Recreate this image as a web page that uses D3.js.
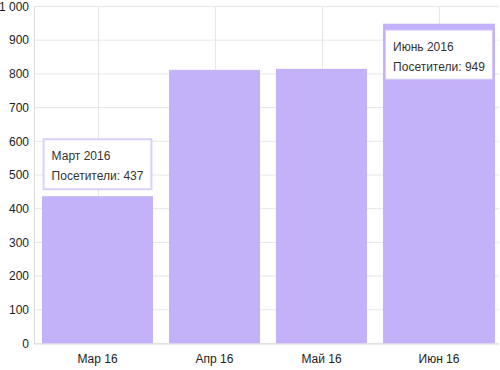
<!DOCTYPE html>
<html lang="ru">
<head>
<meta charset="UTF-8">
<title>Посетители</title>
<script src="https://cdn.jsdelivr.net/npm/d3@7"></script>
<style>
  body { margin: 0; background: #fff; }
  svg { font-family: "Liberation Sans", Arial, sans-serif; }
</style>
</head>
<body>
<div id="chart"></div>
<script>
// data
const months = ["2016-03", "2016-04", "2016-05", "2016-06"];
const tickLabels = ["Мар 16", "Апр 16", "Май 16", "Июн 16"];
const tipLabels = ["Март 2016", "Апрель 2016", "Май 2016", "Июнь 2016"];
const visitors = [437, 812, 815, 949];
const yTicks = [0, 100, 200, 300, 400, 500, 600, 700, 800, 900, 1000];
const tipShown = [0, 3];

const W = 500, H = 370;
const mLeft = 34, mRight = 499, mTop = 6.5, mBottom = 343.5;
const barColor = "#c3b1f9";

const svg = d3.select("#chart").append("svg")
  .attr("width", W).attr("height", H);

const ru = d3.formatLocale({ decimal: ",", thousands: "\u00a0", grouping: [3], currency: ["", ""] });
const fmt = ru.format(",d");

// cell edges: the first and last month get wider cells
const xEdge = d3.scaleLinear()
  .domain([0, 1, 2, 3, 4])
  .range([mLeft, 161, 268, 375, 503]);
const xMid = i => (xEdge(i) + xEdge(i + 1)) / 2;
const pad = 8;

const y = d3.scaleLinear().domain([0, 1000]).range([mBottom, mTop]);

// grid
svg.append("g").selectAll("line").data(yTicks).join("line")
  .attr("x1", mLeft).attr("x2", mRight)
  .attr("y1", d => y(d)).attr("y2", d => y(d))
  .attr("stroke", "#e6e6e6");
svg.append("g").selectAll("line").data(months).join("line")
  .attr("x1", (d, i) => Math.round(xMid(i)) + 0.5).attr("x2", (d, i) => Math.round(xMid(i)) + 0.5)
  .attr("y1", mTop).attr("y2", mBottom)
  .attr("stroke", "#e6e6e6");

// bars
svg.append("g").selectAll("rect").data(visitors).join("rect")
  .attr("x", (d, i) => xEdge(i) + pad)
  .attr("width", (d, i) => xEdge(i + 1) - xEdge(i) - 2 * pad)
  .attr("y", d => y(d))
  .attr("height", d => y(0) - y(d))
  .attr("fill", barColor);

// axes lines
svg.append("line").attr("x1", mLeft + 0.5).attr("x2", mLeft + 0.5)
  .attr("y1", mTop).attr("y2", mBottom + 0.5).attr("stroke", "#dcdcdc");
svg.append("line").attr("x1", mLeft).attr("x2", mRight)
  .attr("y1", mBottom + 0.5).attr("y2", mBottom + 0.5).attr("stroke", "#dcdcdc");

// y labels
svg.append("g").selectAll("text").data(yTicks).join("text")
  .attr("x", 29).attr("y", d => y(d)).attr("dy", "0.35em")
  .attr("text-anchor", "end").attr("font-size", 12).attr("fill", "#222")
  .text(d => fmt(d));

// x labels
svg.append("g").selectAll("text").data(tickLabels).join("text")
  .attr("x", (d, i) => xMid(i)).attr("y", 363)
  .attr("text-anchor", "middle").attr("font-size", 12).attr("fill", "#222")
  .text(d => d);

// tooltips
tipShown.forEach(i => {
  const g = svg.append("g");
  const t1 = g.append("text").attr("font-size", 12).attr("fill", "#333").text(tipLabels[i]);
  const t2 = g.append("text").attr("font-size", 12).attr("fill", "#333").text("Посетители: " + visitors[i]);
  const tw = Math.max(t1.node().getComputedTextLength(), t2.node().getComputedTextLength()) + 16;
  const th = 50;
  const bx = xMid(i) - tw / 2;
  let by = y(visitors[i]) - 7 - th;
  if (by < 0) by = y(visitors[i]) + 6;
  g.insert("rect", "text")
    .attr("x", bx).attr("y", by).attr("width", tw).attr("height", th)
    .attr("fill", "#fff").attr("stroke", barColor).attr("stroke-opacity", 0.6)
    .attr("stroke-width", 2);
  t1.attr("x", bx + 8).attr("y", by + 21);
  t2.attr("x", bx + 8).attr("y", by + 41);
});
</script>
</body>
</html>
